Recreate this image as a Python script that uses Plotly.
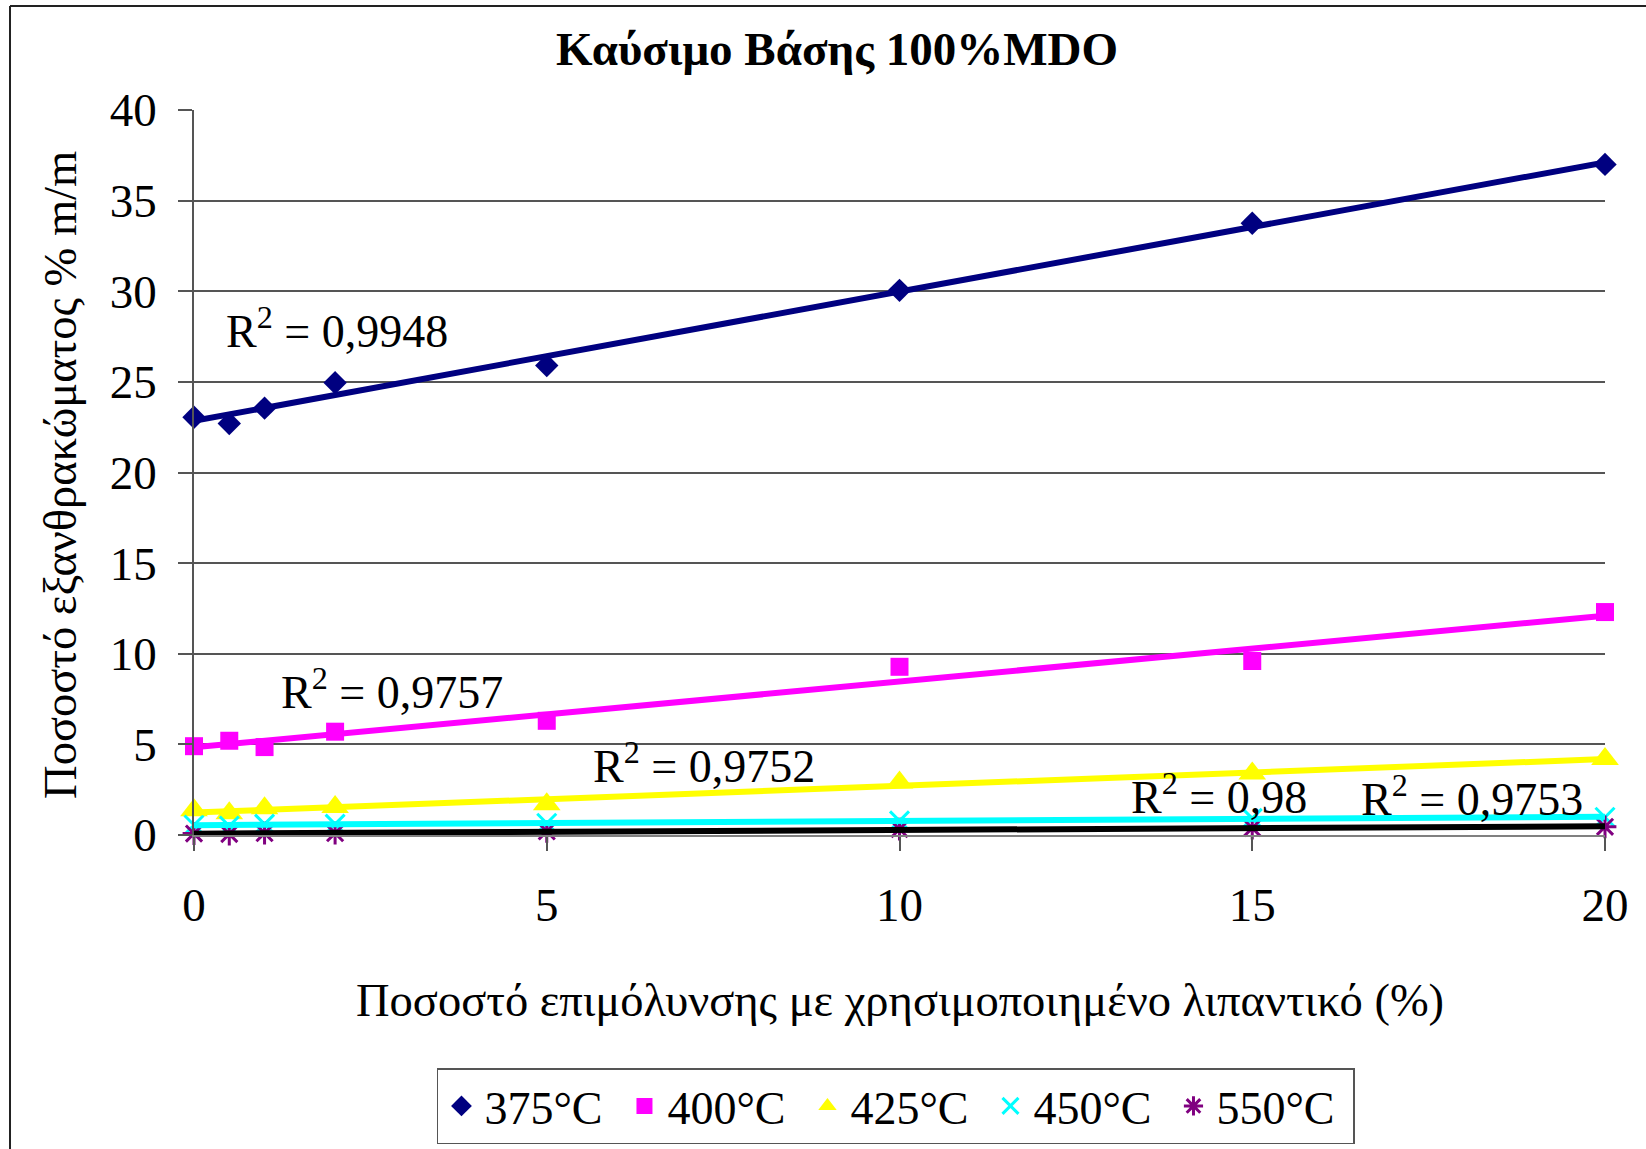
import numpy as np
import plotly.graph_objects as go

# Contamination level with used lubricant (%)
contamination = [0, 0.5, 1, 2, 5, 10, 15, 20]

# Carbon residue (% m/m) per test temperature
t375 = [23.05, 22.7, 23.55, 24.95, 25.9, 30.05, 33.75, 37.0]
t400 = [4.9, 5.2, 4.85, 5.7, 6.3, 9.28, 9.6, 12.3]
t425 = [1.37, 1.2, 1.47, 1.55, 1.7, 2.9, 3.4, 4.2]
t450 = [0.55, 0.5, 0.6, 0.6, 0.65, 0.78, 0.92, 0.98]
t550 = [0.08, 0.05, 0.1, 0.1, 0.2, 0.32, 0.38, 0.45]

series_names = ["375°C", "400°C", "425°C", "450°C", "550°C"]
r2_labels = ["R<sup>2</sup> = 0,9948", "R<sup>2</sup> = 0,9757", "R<sup>2</sup> = 0,9752",
             "R<sup>2</sup> = 0,98", "R<sup>2</sup> = 0,9753"]

x_ticks = [0, 5, 10, 15, 20]
y_ticks = [0, 5, 10, 15, 20, 25, 30, 35, 40]

FONT = "Liberation Serif"
series = [t375, t400, t425, t450, t550]
marker_colors = ["#000080", "#FF00FF", "#FFFF00", "#00FFFF", "#800080"]
trend_colors = ["#000080", "#FF00FF", "#FFFF00", "#00FFFF", "#000000"]
symbols = ["diamond", "square", "triangle-up", "x-thin-open", "asterisk-open"]
sizes = [18, 18, 24, 19, 19]

fig = go.Figure()

for name, ys, col, sym, sz in zip(series_names, series, marker_colors, symbols, sizes):
    open_sym = sym.endswith("open")
    fig.add_trace(go.Scatter(
        x=contamination, y=ys, mode="markers", name=name, cliponaxis=False,
        marker=dict(symbol=sym, size=sz, color=col,
                    line=dict(color=col, width=3 if open_sym else 0)),
    ))

# Linear least-squares trend lines over the contamination range
x_arr = np.array(contamination, dtype=float)
x_line = np.array([min(contamination), max(contamination)], dtype=float)
for ys, col in zip(series, trend_colors):
    slope, intercept = np.polyfit(x_arr, np.array(ys), 1)
    fig.add_trace(go.Scatter(
        x=x_line, y=slope * x_line + intercept, mode="lines",
        line=dict(color=col, width=6), showlegend=False, hoverinfo="skip",
        cliponaxis=False,
    ))

# R² labels beside the trend lines
r2_pos = [(0.42, 28.0), (1.2, 8.05), (5.63, 3.95), (13.25, 2.25), (16.52, 2.17)]
for (ax, ay), txt in zip(r2_pos, r2_labels):
    fig.add_annotation(x=ax, y=ay, xref="x", yref="y", text=txt, showarrow=False,
                       xanchor="left", yanchor="middle",
                       font=dict(family=FONT, size=46, color="black"))

# Chart title and axis titles
fig.add_annotation(x=0.4557, y=1.084, xref="paper", yref="paper",
                   text="<b>Καύσιμο Βάσης 100%MDO</b>", showarrow=False,
                   xanchor="center", yanchor="middle",
                   font=dict(family=FONT, size=47, color="black"))
fig.add_annotation(x=0.5, y=-0.2276, xref="paper", yref="paper",
                   text="Ποσοστό επιμόλυνσης με χρησιμοποιημένο λιπαντικό (%)",
                   showarrow=False, xanchor="center", yanchor="middle",
                   font=dict(family=FONT, size=46.5, color="black"))
fig.add_annotation(x=-0.0943, y=0.4966, xref="paper", yref="paper",
                   text="Ποσοστό εξανθρακώματος % m/m", textangle=-90,
                   showarrow=False, xanchor="center", yanchor="middle",
                   font=dict(family=FONT, size=46.5, color="black"))

# Outer chart frame (left and top edges)
fig.add_shape(type="line", xref="paper", yref="paper", x0=-0.1304, x1=-0.1304,
              y0=1.1434, y1=-0.45, line=dict(color="#222222", width=2))
fig.add_shape(type="line", xref="paper", yref="paper", x0=-0.1304, x1=1.05,
              y0=1.1434, y1=1.1434, line=dict(color="#222222", width=2))

fig.update_xaxes(range=[0, 20], tickvals=x_ticks, showgrid=False, zeroline=False,
                 showline=True, linecolor="#808080", linewidth=1.5,
                 ticks="outside", ticklen=14, tickcolor="#555555", tickwidth=1.5,
                 ticklabelstandoff=14,
                 tickfont=dict(family=FONT, size=47, color="black"))
fig.update_yaxes(range=[0, 40], tickvals=y_ticks, showgrid=True, gridcolor="#555555",
                 gridwidth=1.5, zeroline=False, showline=True, linecolor="#555555",
                 linewidth=1.5, ticks="outside", ticklen=14, tickcolor="#555555",
                 tickwidth=1.5, ticklabelstandoff=12,
                 tickfont=dict(family=FONT, size=47, color="black"))

fig.update_layout(
    width=1646, height=1149,
    margin=dict(l=194, r=41, t=110, b=314, autoexpand=False),
    paper_bgcolor="white", plot_bgcolor="white",
    showlegend=True,
    legend=dict(orientation="h", x=0.4975, y=-0.3214, xanchor="center", yanchor="top",
                bgcolor="white", bordercolor="#555555", borderwidth=1.5,
                entrywidth=132, entrywidthmode="pixels", itemwidth=36,
                font=dict(family=FONT, size=46, color="black")),
)

fig.write_html("out.html")
